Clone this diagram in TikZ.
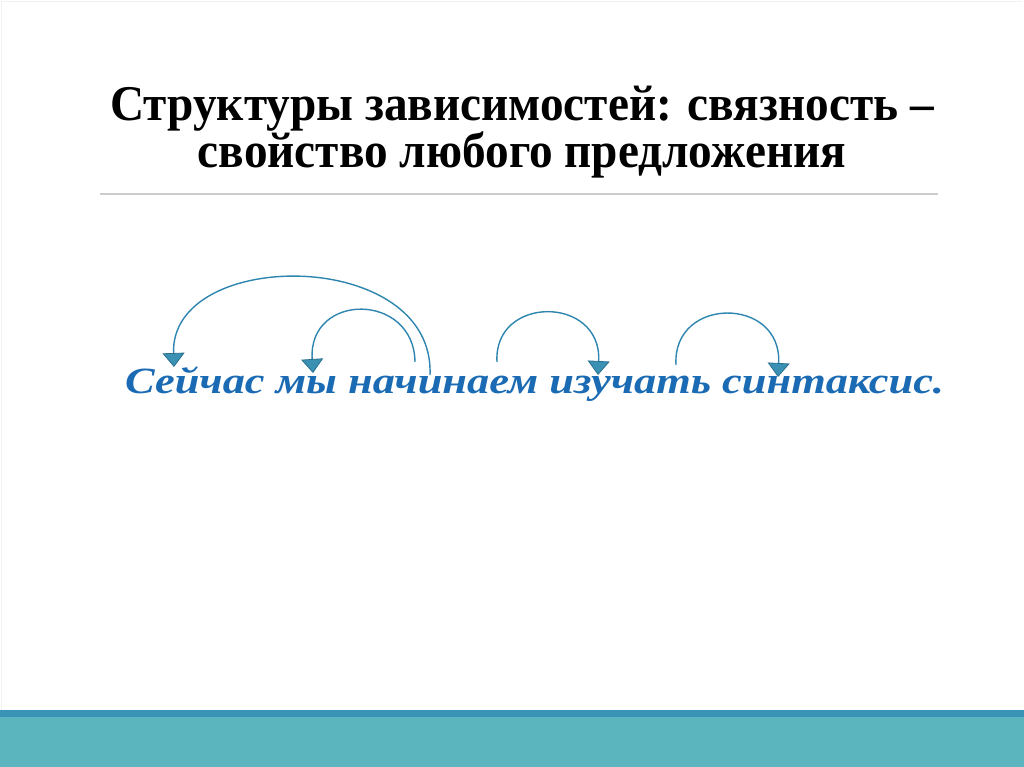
\documentclass[tikz,border=0pt]{standalone}
\usepackage{fontspec}
\usetikzlibrary{arrows.meta}
\newfontfamily\titlefont[FakeStretch=0.945]{Liberation Serif}
\newfontfamily\sentfont[FakeStretch=1.2]{Liberation Serif}
\definecolor{sentblue}{HTML}{1A6BB3}
\definecolor{arcblue}{HTML}{2E86B0}
\definecolor{tipfill}{HTML}{3A91B4}
\definecolor{tipdraw}{HTML}{2A7090}
\definecolor{banddark}{HTML}{3893B6}
\definecolor{bandteal}{HTML}{5BB5BF}
\definecolor{rulegray}{HTML}{CCCCCC}
\tikzset{
  titletext/.style={font=\titlefont\bfseries\fontsize{50}{41}\selectfont, inner sep=0pt, align=center, anchor=base},
  senttext/.style={font=\sentfont\bfseries\itshape\fontsize{37}{40}\selectfont, text=sentblue, inner sep=0pt, anchor=base west},
  deparc/.style={draw=arcblue, line width=1.4pt, -{Triangle[width=22pt,length=14pt,fill=tipfill,color=tipdraw,line width=0.8pt]}},
}
\begin{document}
\begin{tikzpicture}[x=1pt,y=-1pt]
\useasboundingbox (0,0) rectangle (1024,767);
\fill[white] (0,0) rectangle (1024,767);
\draw[gray!10, line width=1pt] (1.5,1.5) -- (1.5,710) (1.5,1.5) -- (1022,1.5);
% bottom bands
\fill[banddark] (0,710) rectangle (1024,717);
\fill[bandteal] (0,717) rectangle (1024,767);
% title
\node[titletext] (title) at (522,168) {Структуры зависимостей: связность –\\свойство любого предложения};
\coordinate (ruleL) at (100,194);
\coordinate (ruleR) at (938,194);
\draw[rulegray, line width=1.2pt] (ruleL) -- (ruleR);
% sentence
\node[senttext] (sent) at (125,393) {Сейчас мы начинаем изучать синтаксис.};
% arc endpoints
\coordinate (a1s) at (430,375);
\coordinate (a1e) at (174,367);
\coordinate (a2s) at (415,362);
\coordinate (a2e) at (313,373);
\coordinate (a3s) at (497,362);
\coordinate (a3e) at (598,375);
\coordinate (a4s) at (676,365);
\coordinate (a4e) at (778,377);
\draw[deparc] (a1s) .. controls (435,247) and (170,247) .. (a1e);
\draw[deparc] (a2s) .. controls (414,292) and (308,292) .. (a2e);
\draw[deparc] (a3s) .. controls (493,295) and (602,295) .. (a3e);
\draw[deparc] (a4s) .. controls (672,296) and (782,296) .. (a4e);
\end{tikzpicture}
\end{document}
